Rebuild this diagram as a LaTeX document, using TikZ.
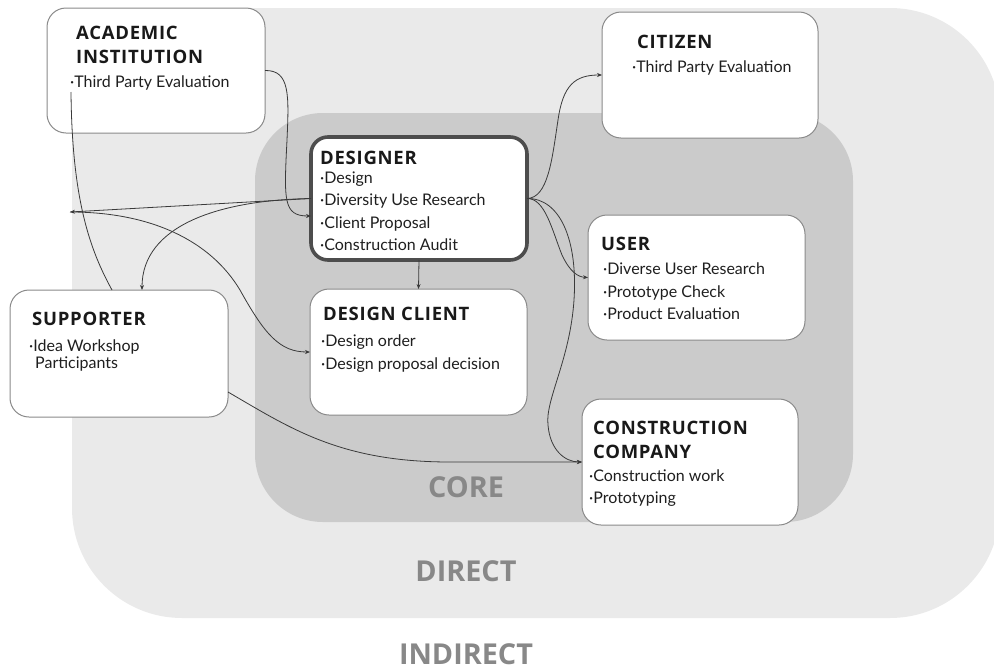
\documentclass[tikz,border=0pt]{standalone}
\usepackage{fontspec}
\setmainfont{Open Sans}
\newfontfamily\bodyfont{Lato}
\newfontfamily\titlefont[LetterSpace=4]{Open Sans Bold}
\usetikzlibrary{arrows.meta}

\definecolor{directgray}{HTML}{EAEAEA}
\definecolor{coregray}{HTML}{CBCBCB}
\definecolor{boxline}{HTML}{8A8A8A}
\definecolor{designline}{HTML}{4D4D4D}
\definecolor{linkcol}{HTML}{3A3A3A}
\definecolor{zonetext}{HTML}{888888}

\tikzset{
  box/.style={draw=boxline, line width=1pt, fill=white, rounded corners=19pt,
    inner sep=0pt, outer sep=0pt},
  mainbox/.style={box, draw=designline, line width=3.6pt, rounded corners=17pt},
  ttl/.style={anchor=base west, inner sep=0pt, text=black!90,
    font=\titlefont\fontsize{18.5}{21}\selectfont},
  itm/.style={anchor=base west, inner sep=0pt, text=black!88,
    font=\bodyfont\fontsize{16}{19}\selectfont},
  zone/.style={inner sep=0pt, text=zonetext,
    font=\fontsize{28.8}{32}\selectfont\bfseries},
  link/.style={draw=linkcol, line width=0.8pt},
  arr/.style={link, -{Stealth[length=5pt,width=4pt]}},
}

\begin{document}
\begin{tikzpicture}[x=1pt,y=-1pt]
\useasboundingbox (0,0) rectangle (994,670);

% nested stakeholder zones
\fill[directgray, rounded corners=110pt] (72,8) rectangle (1000,618);
\fill[coregray, rounded corners=68pt] (255,113) rectangle (853,522);

% zone labels
\node[zone] (lcore) at (466,487) {CORE};
\node[zone] (ldirect) at (466,571) {DIRECT};
\node[zone] (lindirect) at (466,654) {INDIRECT};

% stakeholder boxes
\node[box, minimum width=218pt, minimum height=125pt] (academic) at (156,70.5) {};
\node[box, minimum width=216pt, minimum height=126pt] (citizen) at (710,75) {};
\node[mainbox, minimum width=216pt, minimum height=123pt] (designer) at (419,198.5) {};
\node[box, minimum width=217pt, minimum height=126pt] (dclient) at (418.5,352) {};
\node[box, minimum width=217pt, minimum height=125pt] (user) at (696.5,277.5) {};
\node[box, minimum width=218pt, minimum height=127pt] (supporter) at (119,353.5) {};
\node[box, minimum width=216pt, minimum height=126pt] (construction) at (690,462) {};

% box texts
\node[ttl] (acad-t1) at (76,39) {ACADEMIC};
\node[ttl] (acad-t2) at (76,63) {INSTITUTION};
\node[itm] (acad-i1) at (70,87) {·Third Party Evaluation};

\node[ttl] (citi-t1) at (637,48) {CITIZEN};
\node[itm] (citi-i1) at (632,72) {·Third Party Evaluation};

\node[ttl] (desi-t1) at (320,164) {DESIGNER};
\node[itm] (desi-i1) at (320,183) {·Design};
\node[itm] (desi-i2) at (320,205.5) {·Diversity Use Research};
\node[itm] (desi-i3) at (320,228) {·Client Proposal};
\node[itm] (desi-i4) at (320,250.5) {·Construction Audit};

\node[ttl] (dcli-t1) at (323,320) {DESIGN CLIENT};
\node[itm] (dcli-i1) at (321,346) {·Design order};
\node[itm] (dcli-i2) at (321,369) {·Design proposal decision};

\node[ttl] (user-t1) at (601,250) {USER};
\node[itm] (user-i1) at (603,274) {·Diverse User Research};
\node[itm] (user-i2) at (603,297) {·Prototype Check};
\node[itm] (user-i3) at (603,319.5) {·Product Evaluation};

\node[ttl] (supp-t1) at (32,325) {SUPPORTER};
\node[itm] (supp-i1) at (29,351) {·Idea Workshop};
\node[itm] (supp-i2) at (35,368.5) {Participants};

\node[ttl] (cons-t1) at (593,434) {CONSTRUCTION};
\node[ttl] (cons-t2) at (593,458) {COMPANY};
\node[itm] (cons-i1) at (589,481) {·Construction work};
\node[itm] (cons-i2) at (589,503.5) {·Prototyping};

% connectors
\coordinate (leftend) at (70,212);

\draw[arr] (academic.east) .. controls (290,70) and (289,95) .. (287,140)
  .. controls (284,200) and (283,216) .. ([yshift=-17.5pt]designer.west);
\draw[link] ([xshift=24pt,yshift=-21.5pt]academic.west)
  .. controls (72,200) and (90,250) .. ([xshift=-7pt]supporter.north);
\draw[arr] (designer.west) -- (leftend);
\draw[arr] (leftend) .. controls (150,212) and (210,240) .. (240,290)
  .. controls (265,335) and (280,352) .. (dclient.west);
\draw[arr] (designer.west) .. controls (220,200) and (142,225) .. ([xshift=23pt]supporter.north);
\draw[arr] (designer.south) -- (dclient.north);
\draw[arr] (designer.east) .. controls (548,198) and (552,160) .. (558,120)
  .. controls (563,85) and (575,75) .. (citizen.west);
\draw[arr] (designer.east) .. controls (545,198) and (552,230) .. (562,255)
  .. controls (570,272) and (578,277) .. (user.west);
\draw[arr] (designer.east) .. controls (560,198) and (578,240) .. (574,300)
  .. controls (570,360) and (545,400) .. (548,425)
  .. controls (550,450) and (565,462) .. (construction.west);
\draw[arr] ([yshift=-38.5pt]supporter.east) .. controls (290,428) and (340,462) .. (450,462)
  -- (construction.west);
\end{tikzpicture}
\end{document}
